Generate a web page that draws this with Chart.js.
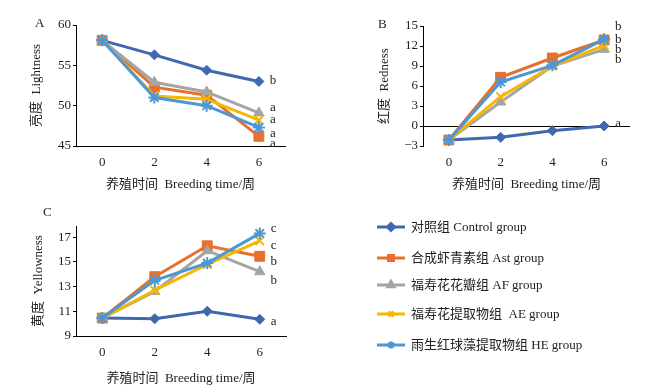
<!DOCTYPE html>
<html>
<head>
<meta charset="utf-8">
<script src="https://cdn.jsdelivr.net/npm/chart.js@4.4.1/dist/chart.umd.min.js"></script>
<style>
  html, body { margin: 0; padding: 0; background: #fff; }
  #wrap { position: relative; width: 665px; height: 389px; background: #fff; overflow: hidden; }
  canvas { position: absolute; }
  .panel-tag { position: absolute; font: 13px 'Liberation Serif', 'Noto Sans CJK SC', serif; color: #222; line-height: 16px; }
</style>
</head>
<body>
<div id="wrap">
  <canvas id="chartA" width="330" height="195" style="left:0;top:0"></canvas>
  <canvas id="chartB" width="335" height="195" style="left:330px;top:0"></canvas>
  <canvas id="chartC" width="665" height="194" style="left:0;top:195px"></canvas>
  <div class="panel-tag" style="left:35px;top:15px">A</div>
  <div class="panel-tag" style="left:378px;top:16px">B</div>
  <div class="panel-tag" style="left:43px;top:204px">C</div>
</div>
<script>
// Colour parameters of fish skin over the breeding period (panels A, B, C)

const weeks = ["0", "2", "4", "6"];
const groupLabels = [
  "对照组 Control group",
  "合成虾青素组 Ast group",
  "福寿花花瓣组 AF group",
  "福寿花提取物组  AE group",
  "雨生红球藻提取物组 HE group"
];

// A: 亮度 Lightness, one row per group
const lightness = [
  [58.1, 56.3, 54.4, 53.0],
  [58.1, 52.3, 51.3, 46.2],
  [58.1, 52.9, 51.7, 49.1],
  [58.1, 51.2, 50.8, 48.2],
  [58.1, 51.0, 50.0, 47.3]
];
const lightnessTicks = [45, 50, 55, 60];
const lightnessLetters = ["b", "a", "a", "a", "a"];
const lightnessLetterAt = [53.1, 49.8, 48.3, 46.6, 45.3];

// B: 红度 Redness
const redness = [
  [-2.1, -1.7, -0.7, 0.0],
  [-2.1, 7.3, 10.2, 12.9],
  [-2.1, 3.6, 9.0, 11.5],
  [-2.1, 4.4, 9.0, 12.1],
  [-2.1, 6.6, 9.1, 13.0]
];
const rednessTicks = [-3, 0, 3, 6, 9, 12, 15];
const rednessLetters = ["b", "b", "b", "b", "a"];
const rednessLetterAt = [14.9, 13.0, 11.5, 9.9, 0.3];

// C: 黄度 Yellowness
const yellowness = [
  [10.45, 10.4, 11.0, 10.35],
  [10.45, 13.8, 16.3, 15.45],
  [10.45, 12.6, 15.9, 14.2],
  [10.45, 12.7, 14.8, 16.7],
  [10.45, 13.5, 14.9, 17.3]
];
const yellownessTicks = [9, 11, 13, 15, 17];
const yellownessLetters = ["c", "c", "b", "b", "a"];
const yellownessLetterAt = [17.7, 16.3, 15.0, 13.45, 10.2];

// ---- styling
const SERIF = "'Liberation Serif', 'Noto Sans CJK SC', serif";
const INK = "#222";
const groupColors = ["#3F68B1", "#E8702C", "#A5A5A5", "#F5B800", "#4E97D5"];
const groupMarkers = ["rectRot", "rect", "triangle", "crossRot", "star"];
const markerRadius = [5, 7, 6, 6, 6];
const legendRowY = [32, 63, 90, 119, 150];

Chart.defaults.font.family = SERIF;
Chart.defaults.font.size = 13;
Chart.defaults.color = INK;

// significance letters next to the week-6 points
const sigLetterPlugin = {
  id: "sigLetters",
  afterDatasetsDraw(chart, args, opts) {
    if (!opts || !opts.letters) return;
    const { ctx, scales: { x, y } } = chart;
    const px = x.getPixelForValue(3) + 14;
    ctx.save();
    ctx.font = "13px " + SERIF;
    ctx.fillStyle = INK;
    ctx.textAlign = "center";
    ctx.textBaseline = "middle";
    opts.letters.forEach((t, i) => ctx.fillText(t, px, y.getPixelForValue(opts.at[i])));
    ctx.restore();
  }
};
Chart.register(sigLetterPlugin);

// legend at the right of panel C: line + marker + label
const sideLegendPlugin = {
  id: "sideLegend",
  afterDraw(chart) {
    const ctx = chart.ctx;
    ctx.save();
    chart.data.datasets.forEach((ds, i) => {
      const y = legendRowY[i];
      ctx.strokeStyle = ds.borderColor;
      ctx.fillStyle = ds.borderColor;
      ctx.lineWidth = 3;
      ctx.beginPath();
      ctx.moveTo(377, y);
      ctx.lineTo(405, y);
      ctx.stroke();
      Chart.helpers.drawPoint(ctx, {
        pointStyle: ds.pointStyle,
        rotation: 0,
        radius: 3.5,
        borderWidth: 1.5
      }, 391, y);
      ctx.font = "13px " + SERIF;
      ctx.fillStyle = INK;
      ctx.textAlign = "left";
      ctx.textBaseline = "middle";
      ctx.fillText(ds.label, 411, y + 1);
    });
    ctx.restore();
  }
};

function makeDatasets(rows) {
  return rows.map((vals, i) => ({
    label: groupLabels[i],
    data: vals,
    borderColor: groupColors[i],
    backgroundColor: groupColors[i],
    borderWidth: 3,
    pointStyle: groupMarkers[i],
    pointRadius: markerRadius[i],
    pointBorderWidth: (i >= 3) ? 2 : 1,
    pointBackgroundColor: groupColors[i],
    pointBorderColor: groupColors[i],
    order: rows.length - i, // later groups on top, like the original
    tension: 0
  }));
}

function makePanel(canvasId, rows, p) {
  const ctx = document.getElementById(canvasId).getContext("2d");
  return new Chart(ctx, {
    type: "line",
    data: { labels: weeks, datasets: makeDatasets(rows) },
    options: {
      responsive: false,
      animation: false,
      layout: { padding: { top: p.top, right: p.right, left: 0, bottom: 0 } },
      plugins: {
        legend: { display: false },
        tooltip: { enabled: false },
        sigLetters: { letters: p.letters, at: p.letterAt }
      },
      scales: {
        x: {
          type: "category",
          offset: true,
          grid: { display: false, drawTicks: false },
          border: { display: p.xBorder, color: "#000", width: 1 },
          ticks: { padding: 9, color: INK, font: { size: 13 } },
          title: {
            display: true,
            text: "养殖时间  Breeding time/周",
            color: INK,
            font: { size: 13 },
            padding: { top: 0, bottom: 3 }
          },
          afterFit(s) { s.height = p.xHeight; }
        },
        y: {
          min: p.min,
          max: p.max,
          ticks: {
            padding: 2,
            color: INK,
            font: { size: 13 },
            callback: (v) => (v < 0 ? "\u2212" + Math.abs(v) : String(v))
          },
          afterBuildTicks(s) {
            s.ticks = p.ticks.map(v => ({ value: v }));
          },
          grid: {
            drawOnChartArea: p.zeroLine,
            color: (c) => (p.zeroLine && c.tick && c.tick.value === 0 ? "#000" : "rgba(0,0,0,0)"),
            tickColor: "#000",
            tickLength: 3,
            lineWidth: 1
          },
          border: { display: true, color: "#000", width: 1 },
          title: {
            display: true,
            text: p.yTitle,
            color: INK,
            font: { size: 13 },
            padding: { top: p.yTitlePad, bottom: 0 }
          },
          afterFit(s) { s.width = p.yWidth; }
        }
      }
    },
    plugins: p.extraPlugins || []
  });
}

makePanel("chartA", lightness, {
  top: 25, right: 45, xHeight: 49, yWidth: 76, yTitlePad: 29,
  min: 45, max: 60, ticks: lightnessTicks, zeroLine: false, xBorder: true,
  yTitle: "亮度  Lightness",
  letters: lightnessLetters, letterAt: lightnessLetterAt
});

makePanel("chartB", redness, {
  top: 26, right: 35, xHeight: 49, yWidth: 93, yTitlePad: 47,
  min: -3, max: 15, ticks: rednessTicks, zeroLine: true, xBorder: false,
  yTitle: "红度  Redness",
  letters: rednessLetters, letterAt: rednessLetterAt
});

makePanel("chartC", yellowness, {
  top: 31, right: 379, xHeight: 53, yWidth: 76, yTitlePad: 31,
  min: 9, max: 17.9, ticks: yellownessTicks, zeroLine: false, xBorder: true,
  yTitle: "黄度  Yellowness",
  letters: yellownessLetters, letterAt: yellownessLetterAt,
  extraPlugins: [sideLegendPlugin]
});
</script>
</body>
</html>
